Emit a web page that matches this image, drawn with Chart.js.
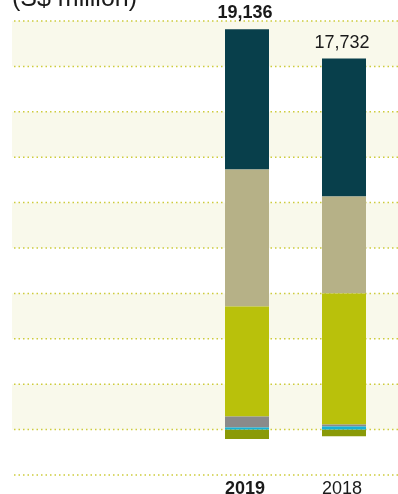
<!DOCTYPE html>
<html>
<head>
<meta charset="utf-8">
<script src="https://cdn.jsdelivr.net/npm/chart.js@4"></script>
<style>
  html, body { margin: 0; padding: 0; background: #fff; }
  #wrap { width: 398px; height: 494px; position: relative; }
</style>
</head>
<body>
<div id="wrap"><canvas id="chart"></canvas></div>
<script>
// 数据
const years = ["2019", "2018"];
const totals = ["19,136", "17,732"];
const cyanPart = [96, 143];
const grayPart = [526, 96];
const limePart = [5258, 6262];
const khakiPart = [6549, 4637];
const tealPart = [6707, 6594];
const olivePart = [-450, -320];
const gridStep = 2170;

// 背景条纹和虚线
const bandsPlugin = {
  id: "bands",
  beforeDraw(chart) {
    const { ctx, scales: { y } } = chart;
    const ticks = y.ticks.map((t) => y.getPixelForValue(t.value));
    ctx.save();
    ctx.fillStyle = "#f9f9eb";
    for (let i = 0; i < ticks.length - 1; i++) {
      const top = Math.min(ticks[i], ticks[i + 1]);
      const bottom = Math.max(ticks[i], ticks[i + 1]);
      const k = Math.round(y.ticks[i].value / gridStep);
      if (k > 0 && k % 2 === 1) ctx.fillRect(12, top, chart.width - 12, bottom - top);
    }
    ctx.strokeStyle = "#cdcc3c";
    ctx.lineWidth = 1.5;
    ctx.setLineDash([1.5, 3]);
    ticks.forEach((py) => {
      ctx.beginPath();
      ctx.moveTo(14, py);
      ctx.lineTo(chart.width, py);
      ctx.stroke();
    });
    ctx.restore();
  },
  afterDraw(chart) {
    const { ctx, scales: { x } } = chart;
    ctx.save();
    ctx.fillStyle = "#1a1a1a";
    ctx.textBaseline = "alphabetic";
    ctx.textAlign = "left";
    ctx.font = "300 25px 'Liberation Sans', Arial, sans-serif";
    ctx.fillText("(S$ million)", 12, 6);
    ctx.textAlign = "center";
    years.forEach((yr, i) => {
      const px = x.getPixelForValue(i) - 2;
      ctx.font = (i === 0 ? "bold " : "") + "18px 'Liberation Sans', Arial, sans-serif";
      ctx.fillText(yr, px, 494);
    });
    const meta = chart.getDatasetMeta(chart.data.datasets.length - 2);
    totals.forEach((t, i) => {
      const px = x.getPixelForValue(i) - 2;
      const top = meta.data[i].y;
      ctx.font = (i === 0 ? "bold " : "") + "18px 'Liberation Sans', Arial, sans-serif";
      ctx.fillText(t, px, top - 11);
    });
    ctx.restore();
  },
};

const ctx = document.getElementById("chart").getContext("2d");
new Chart(ctx, {
  type: "bar",
  data: {
    labels: years,
    datasets: [
      { label: "cyan", data: cyanPart, backgroundColor: "#14b2d8" },
      { label: "gray", data: grayPart, backgroundColor: "#8a8a8a" },
      { label: "lime", data: limePart, backgroundColor: "#b9c10b" },
      { label: "khaki", data: khakiPart, backgroundColor: "#b6b187" },
      { label: "teal", data: tealPart, backgroundColor: "#083f4b" },
      { label: "olive", data: olivePart, backgroundColor: "#8a9a08" },
    ],
  },
  options: {
    responsive: true,
    maintainAspectRatio: false,
    animation: false,
    layout: {
      padding: { left: 198.5, right: 5.5, top: 21, bottom: 19 },
    },
    datasets: {
      bar: { categoryPercentage: 1, barPercentage: 44 / 97, borderWidth: 0 },
    },
    plugins: {
      legend: { display: false },
      tooltip: { enabled: false },
    },
    scales: {
      x: { stacked: true, display: false },
      y: {
        stacked: true,
        display: false,
        min: -gridStep,
        max: 9 * gridStep,
        afterBuildTicks(scale) {
          const t = [];
          for (let k = 9; k >= -1; k--) t.push({ value: k * gridStep });
          scale.ticks = t;
        },
      },
    },
  },
  plugins: [bandsPlugin],
});
</script>
</body>
</html>
